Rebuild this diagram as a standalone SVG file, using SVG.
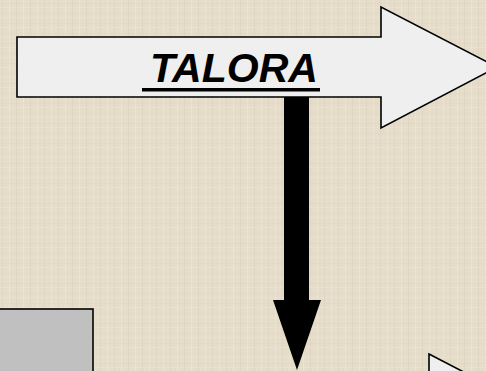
<svg xmlns="http://www.w3.org/2000/svg" width="486" height="371" viewBox="0 0 486 371">
  <defs>
    <pattern id="linen" width="14" height="10" patternUnits="userSpaceOnUse">
      <rect width="14" height="10" fill="#e5dcca"/>
      <rect x="2" width="1" height="10" fill="#d8cfba" opacity="0.5"/>
      <rect x="9" width="1" height="10" fill="#efe8da" opacity="0.6"/>
      <rect y="3" width="14" height="1" fill="#dbd2be" opacity="0.35"/>
      <rect y="7" width="14" height="1" fill="#eee7d8" opacity="0.45"/>
    </pattern>
    <style>
      .big { fill: #efefef; stroke: #000; stroke-width: 1.6; stroke-linejoin: miter; }
      .box { fill: #c0c0c0; stroke: #000; stroke-width: 1.6; }
      .down { fill: #000; stroke: none; }
      .lbl { font-family: "Liberation Sans", Arial, sans-serif; font-weight: bold; font-style: italic; font-size: 41px; fill: #000; }
    </style>
  </defs>
  <rect width="486" height="371" fill="url(#linen)"/>

  <g id="box-left">
    <rect class="box" x="-5" y="309" width="98" height="80"/>
  </g>

  <g id="arrow-bottom-right">
    <polygon class="big" points="429,354 535,409 429,470"/>
  </g>

  <g id="connectors">
    <polygon class="down" points="284,96 309,96 309,300 321,300 297,370 273,300 284,300"/>
  </g>

  <g id="talora">
    <polygon class="big" points="17,37 381,37 381,7 497,67 381,128 381,97 17,97"/>
    <text class="lbl" x="234" y="82" text-anchor="middle" textLength="168" lengthAdjust="spacingAndGlyphs">TALORA</text>
    <rect x="142" y="88" width="178" height="3.5" fill="#000"/>
  </g>
</svg>
